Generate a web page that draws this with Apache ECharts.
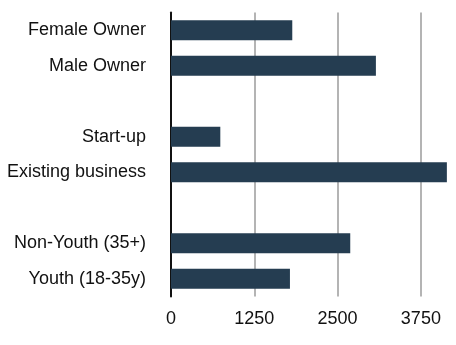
<!DOCTYPE html>
<html>
<head>
<meta charset="utf-8">
<script src="https://cdn.jsdelivr.net/npm/echarts@6/dist/echarts.min.js"></script>
<style>
html,body{margin:0;padding:0;background:#fff;}
#c{width:456px;height:345px;}
</style>
</head>
<body>
<div id="c"></div>
<script>
const categories = ['Female Owner', 'Male Owner', ' ', 'Start-up', 'Existing business', '  ', 'Non-Youth (35+)', 'Youth (18-35y)'];
const values = [1820, 3075, null, 740, 4140, null, 2690, 1785];
const xTicks = [0, 1250, 2500, 3750];

const chart = echarts.init(document.getElementById('c'), null, {renderer: 'canvas'});
chart.setOption({
  animation: false,
  backgroundColor: '#ffffff',
  grid: {left: 171, top: 12.5, bottom: 48.5, right: 0, containLabel: false},
  xAxis: {
    type: 'value',
    min: xTicks[0],
    max: 4277,
    interval: xTicks[1] - xTicks[0],
    axisLine: {show: false},
    axisTick: {show: false},
    splitLine: {
      show: true,
      showMaxLine: false,
      lineStyle: {color: ['#b4b4b4', '#b4b4b4', '#b4b4b4', '#b4b4b4', 'rgba(0,0,0,0)'], width: 2}
    },
    axisLabel: {
      margin: 14,
      showMaxLabel: false,
      fontFamily: 'Liberation Sans, Arial, sans-serif',
      fontSize: 18,
      color: '#111',
      formatter: v => (xTicks.indexOf(v) >= 0 ? String(v) : '')
    }
  },
  yAxis: {
    type: 'category',
    inverse: true,
    data: categories,
    axisLine: {show: true, lineStyle: {color: '#111', width: 2}},
    axisTick: {show: false},
    splitLine: {show: false},
    axisLabel: {
      margin: 25,
      fontFamily: 'Liberation Sans, Arial, sans-serif',
      fontSize: 18,
      color: '#111'
    }
  },
  series: [{
    type: 'bar',
    data: values,
    barWidth: 20,
    itemStyle: {color: '#253d51'}
  }]
});
</script>
</body>
</html>
